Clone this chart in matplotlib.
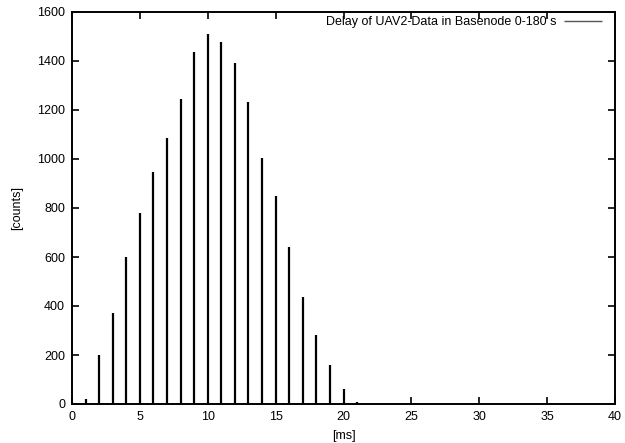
import matplotlib
matplotlib.use("Agg")
import matplotlib.pyplot as plt

plt.rcParams['font.family'] = ['Liberation Sans', 'DejaVu Sans']

delay_ms = [1, 2, 3, 4, 5, 6, 7, 8, 9, 10, 11, 12, 13, 14, 15, 16, 17, 18, 19, 20, 21]
counts = [19, 200, 370, 599, 778, 948, 1087, 1246, 1436, 1510, 1476, 1392, 1233, 1003,
          848, 642, 438, 282, 159, 61, 10]
xticks = [0, 5, 10, 15, 20, 25, 30, 35, 40]
yticks = [0, 200, 400, 600, 800, 1000, 1200, 1400, 1600]
label = "Delay of UAV2-Data in Basenode 0-180 s"

fig = plt.figure(figsize=(6.25, 4.43), dpi=100)
ax = fig.add_axes([72/625, 1-404/443, (615-72)/625, (404-12)/443])
ax.vlines(delay_ms, 0, counts, colors='black', linewidth=1.6, label=label)
ax.set_xlim(0, 40)
ax.set_ylim(0, 1600)
ax.set_xticks(xticks)
ax.set_yticks(yticks)
ax.tick_params(direction='in', top=True, right=True, length=5, width=1.2, labelsize=9, pad=5)
for s in ax.spines.values():
    s.set_linewidth(1.4)
ax.set_xlabel('[ms]', fontsize=9, labelpad=5)
ax.set_ylabel('[counts]', fontsize=9, labelpad=10)
leg = ax.legend(loc='upper right', frameon=False, fontsize=9, markerfirst=False,
                handlelength=3.0, borderaxespad=0.5, handletextpad=0.65,
                bbox_to_anchor=(1 - 2/543, 1 + 7/392))
for h in leg.get_lines():
    h.set_linewidth(1)
    h.set_color('#555555')
fig.savefig('out.png', dpi=100)
